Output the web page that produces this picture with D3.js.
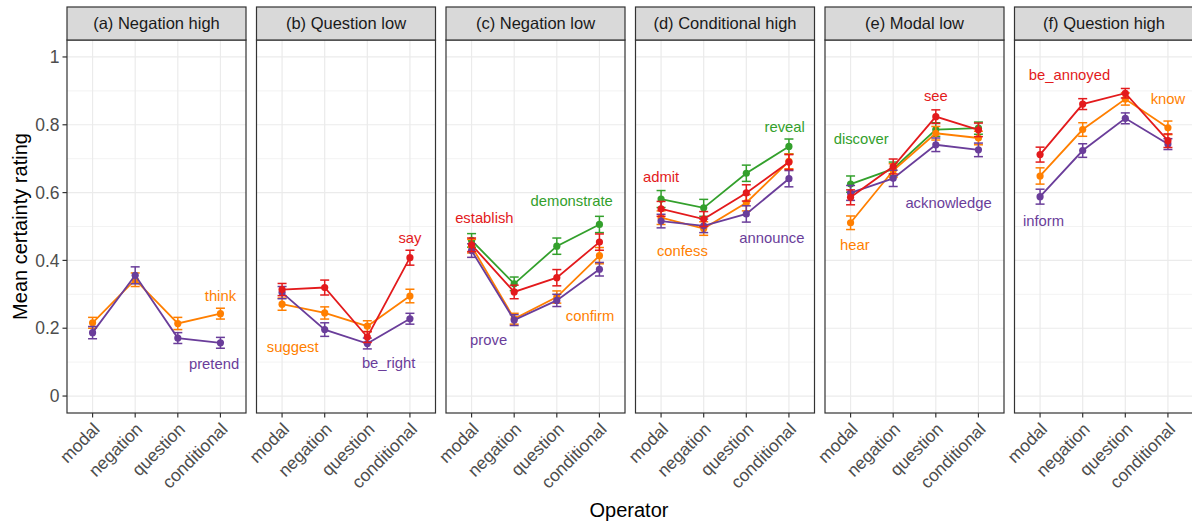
<!DOCTYPE html>
<html>
<head>
<meta charset="utf-8">
<script src="https://cdn.jsdelivr.net/npm/d3@7"></script>
<style>
  body { margin: 0; background: #fff; }
  svg { display: block; font-family: "Liberation Sans", Arial, sans-serif; }
</style>
</head>
<body>
<svg id="chart" width="1192" height="525"></svg>
<script>
// operators on the x axis
var operators = ["modal", "negation", "question", "conditional"];
var yTicks = [0, 0.2, 0.4, 0.6, 0.8, 1];
var yTickLabels = ["0", "0.2", "0.4", "0.6", "0.8", "1"];

var panelTitles = ["(a) Negation high", "(b) Question low", "(c) Negation low",
  "(d) Conditional high", "(e) Modal low", "(f) Question high"];

// colour keys
var colors = { red: "#E31A1C", orange: "#FF7F00", green: "#33A02C", purple: "#6A3D9A" };

// panel (a)
var thinkMean = [0.216, 0.343, 0.214, 0.243];
var thinkCi = [0.016, 0.02, 0.018, 0.016];
var pretendMean = [0.187, 0.356, 0.171, 0.157];
var pretendCi = [0.018, 0.025, 0.016, 0.016];

// panel (b)
var sayMean = [0.314, 0.320, 0.174, 0.408];
var sayCi = [0.018, 0.022, 0.016, 0.022];
var suggestMean = [0.271, 0.245, 0.206, 0.295];
var suggestCi = [0.018, 0.018, 0.016, 0.02];
var beRightMean = [0.305, 0.196, 0.155, 0.228];
var beRightCi = [0.018, 0.02, 0.016, 0.016];

// panel (c)
var demonstrateMean = [0.459, 0.331, 0.442, 0.506];
var demonstrateCi = [0.02, 0.02, 0.024, 0.024];
var establishMean = [0.446, 0.307, 0.349, 0.454];
var establishCi = [0.02, 0.02, 0.024, 0.024];
var confirmMean = [0.442, 0.228, 0.292, 0.414];
var confirmCi = [0.02, 0.016, 0.018, 0.024];
var proveMean = [0.429, 0.224, 0.282, 0.374];
var proveCi = [0.02, 0.016, 0.018, 0.02];

// panel (d)
var revealMean = [0.581, 0.555, 0.657, 0.736];
var revealCi = [0.025, 0.025, 0.024, 0.022];
var admitMean = [0.552, 0.522, 0.599, 0.690];
var admitCi = [0.022, 0.022, 0.024, 0.022];
var confessMean = [0.526, 0.494, 0.570, 0.692];
var confessCi = [0.02, 0.02, 0.024, 0.022];
var announceMean = [0.516, 0.502, 0.537, 0.641];
var announceCi = [0.02, 0.02, 0.024, 0.024];

// panel (e)
var discoverMean = [0.625, 0.670, 0.786, 0.790];
var discoverCi = [0.024, 0.02, 0.02, 0.018];
var seeMean = [0.586, 0.677, 0.824, 0.785];
var seeCi = [0.022, 0.022, 0.02, 0.02];
var hearMean = [0.511, 0.665, 0.775, 0.761];
var hearCi = [0.02, 0.02, 0.02, 0.02];
var acknowledgeMean = [0.599, 0.642, 0.741, 0.726];
var acknowledgeCi = [0.022, 0.024, 0.02, 0.02];

// panel (f)
var beAnnoyedMean = [0.712, 0.861, 0.893, 0.753];
var beAnnoyedCi = [0.022, 0.016, 0.014, 0.02];
var knowMean = [0.649, 0.786, 0.876, 0.791];
var knowCi = [0.024, 0.02, 0.018, 0.02];
var informMean = [0.588, 0.724, 0.819, 0.743];
var informCi = [0.022, 0.02, 0.016, 0.016];

// predicate labels: panel, text, colour, x (operator index), y (rating)
var labelPanel = [0, 0, 1, 1, 1, 2, 2, 2, 2, 3, 3, 3, 3, 4, 4, 4, 4, 5, 5, 5];
var labelText = ["think", "pretend", "say", "suggest", "be_right",
  "establish", "demonstrate", "confirm", "prove",
  "admit", "reveal", "confess", "announce",
  "discover", "see", "acknowledge", "hear",
  "be_annoyed", "know", "inform"];
var labelColor = ["orange", "purple", "red", "orange", "purple",
  "red", "green", "orange", "purple",
  "red", "green", "orange", "purple",
  "green", "red", "purple", "orange",
  "red", "orange", "purple"];
var labelX = [3, 2.85, 3, 0.25, 2.5, 0.3, 2.35, 2.78, 0.4, 0, 2.9, 0.5, 2.6, 0.25, 2, 2.3, 0.1, 0.69, 3, 0.08];
var labelY = [0.297, 0.096, 0.467, 0.145, 0.098, 0.527, 0.576, 0.238, 0.167,
  0.647, 0.795, 0.427, 0.467, 0.760, 0.886, 0.569, 0.447, 0.947, 0.878, 0.518];

var panels = [
  [{ c: "orange", m: thinkMean, e: thinkCi }, { c: "purple", m: pretendMean, e: pretendCi }],
  [{ c: "orange", m: suggestMean, e: suggestCi }, { c: "purple", m: beRightMean, e: beRightCi }, { c: "red", m: sayMean, e: sayCi }],
  [{ c: "green", m: demonstrateMean, e: demonstrateCi }, { c: "orange", m: confirmMean, e: confirmCi },
   { c: "purple", m: proveMean, e: proveCi }, { c: "red", m: establishMean, e: establishCi }],
  [{ c: "green", m: revealMean, e: revealCi }, { c: "orange", m: confessMean, e: confessCi },
   { c: "purple", m: announceMean, e: announceCi }, { c: "red", m: admitMean, e: admitCi }],
  [{ c: "green", m: discoverMean, e: discoverCi }, { c: "orange", m: hearMean, e: hearCi },
   { c: "purple", m: acknowledgeMean, e: acknowledgeCi }, { c: "red", m: seeMean, e: seeCi }],
  [{ c: "orange", m: knowMean, e: knowCi }, { c: "purple", m: informMean, e: informCi }, { c: "red", m: beAnnoyedMean, e: beAnnoyedCi }]
];

var svg = d3.select("#chart");
var left0 = 67, panelW = 179, pitch = 189.5;
var stripTop = 7, plotTop = 40, plotBottom = 413;

var y = d3.scaleLinear().domain([-0.05, 1.05]).range([plotBottom, plotTop]);
var x = d3.scaleLinear().domain([-0.6, 3.6]).range([0, panelW]);
var line = d3.line()
  .x(function (d, i) { return x(i); })
  .y(function (d) { return y(d); });

panels.forEach(function (series, p) {
  var g = svg.append("g")
    .attr("transform", "translate(" + (left0 + p * pitch) + ",0)");

  // grid
  var minor = [0.1, 0.3, 0.5, 0.7, 0.9];
  g.selectAll(".minor").data(minor).enter().append("line")
    .attr("x1", 0).attr("x2", panelW)
    .attr("y1", function (d) { return y(d); }).attr("y2", function (d) { return y(d); })
    .attr("stroke", "#EBEBEB").attr("stroke-width", 0.6);
  g.selectAll(".major").data(yTicks).enter().append("line")
    .attr("x1", 0).attr("x2", panelW)
    .attr("y1", function (d) { return y(d); }).attr("y2", function (d) { return y(d); })
    .attr("stroke", "#EBEBEB").attr("stroke-width", 1.2);
  g.selectAll(".vgrid").data(operators).enter().append("line")
    .attr("x1", function (d, i) { return x(i); }).attr("x2", function (d, i) { return x(i); })
    .attr("y1", plotTop).attr("y2", plotBottom)
    .attr("stroke", "#EBEBEB").attr("stroke-width", 1.2);

  series.forEach(function (s) {
    var col = colors[s.c];
    g.append("path")
      .attr("d", line(s.m))
      .attr("fill", "none").attr("stroke", col).attr("stroke-width", 1.8);
    var eb = g.selectAll(null).data(s.m).enter().append("g");
    eb.append("line")
      .attr("x1", function (d, i) { return x(i); }).attr("x2", function (d, i) { return x(i); })
      .attr("y1", function (d, i) { return y(d - s.e[i]); })
      .attr("y2", function (d, i) { return y(d + s.e[i]); })
      .attr("stroke", col).attr("stroke-width", 1.5);
    [-1, 1].forEach(function (sg) {
      eb.append("line")
        .attr("x1", function (d, i) { return x(i) - 4.5; }).attr("x2", function (d, i) { return x(i) + 4.5; })
        .attr("y1", function (d, i) { return y(d + sg * s.e[i]); })
        .attr("y2", function (d, i) { return y(d + sg * s.e[i]); })
        .attr("stroke", col).attr("stroke-width", 1.5);
    });
    eb.append("circle")
      .attr("cx", function (d, i) { return x(i); })
      .attr("cy", function (d) { return y(d); })
      .attr("r", 3.6).attr("fill", col);
  });

  // labels
  labelText.forEach(function (t, k) {
    if (labelPanel[k] !== p) return;
    g.append("text")
      .attr("x", x(labelX[k])).attr("y", y(labelY[k]))
      .attr("dy", "0.35em")
      .attr("text-anchor", "middle")
      .attr("font-size", 14.8)
      .attr("fill", colors[labelColor[k]])
      .text(t);
  });

  // border
  g.append("rect")
    .attr("x", 0).attr("y", plotTop).attr("width", panelW).attr("height", plotBottom - plotTop)
    .attr("fill", "none").attr("stroke", "#333333").attr("stroke-width", 1.2);

  // strip
  g.append("rect")
    .attr("x", 0).attr("y", stripTop).attr("width", panelW).attr("height", plotTop - stripTop)
    .attr("fill", "#D9D9D9").attr("stroke", "#333333").attr("stroke-width", 1.2);
  g.append("text")
    .attr("x", panelW / 2).attr("y", (stripTop + plotTop) / 2)
    .attr("dy", "0.35em")
    .attr("text-anchor", "middle")
    .attr("font-size", 16.5)
    .attr("fill", "#1A1A1A")
    .text(panelTitles[p]);

  // x axis
  var xa = g.append("g");
  xa.selectAll("line").data(operators).enter().append("line")
    .attr("x1", function (d, i) { return x(i); }).attr("x2", function (d, i) { return x(i); })
    .attr("y1", plotBottom).attr("y2", plotBottom + 4.5)
    .attr("stroke", "#333333").attr("stroke-width", 1.2);
  xa.selectAll("text").data(operators).enter().append("text")
    .attr("transform", function (d, i) { return "translate(" + (x(i) - 1) + "," + (plotBottom + 8) + ") rotate(-45)"; })
    .attr("text-anchor", "end")
    .attr("dy", "0.75em")
    .attr("font-size", 17.5)
    .attr("fill", "#4D4D4D")
    .text(function (d) { return d; });

  if (p === 0) {
    var ya = g.append("g");
    ya.selectAll("line").data(yTicks).enter().append("line")
      .attr("x1", -4.5).attr("x2", 0)
      .attr("y1", function (d) { return y(d); }).attr("y2", function (d) { return y(d); })
      .attr("stroke", "#333333").attr("stroke-width", 1.2);
    ya.selectAll("text").data(yTicks).enter().append("text")
      .attr("x", -7.5).attr("y", function (d) { return y(d); })
      .attr("dy", "0.35em")
      .attr("text-anchor", "end")
      .attr("font-size", 17.5)
      .attr("fill", "#4D4D4D")
      .text(function (d, i) { return yTickLabels[i]; });
  }
});

svg.append("text")
  .attr("x", 629).attr("y", 517)
  .attr("text-anchor", "middle")
  .attr("font-size", 20)
  .attr("fill", "#000")
  .text("Operator");

svg.append("text")
  .attr("transform", "translate(27," + ((plotTop + plotBottom) / 2) + ") rotate(-90)")
  .attr("text-anchor", "middle")
  .attr("font-size", 20)
  .attr("fill", "#000")
  .text("Mean certainty rating");
</script>
</body>
</html>
